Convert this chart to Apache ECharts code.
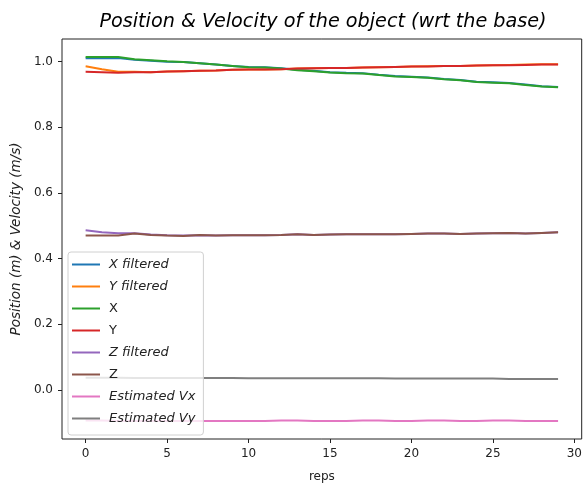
<!DOCTYPE html>
<html>
<head>
<meta charset="utf-8">
<script src="https://cdn.jsdelivr.net/npm/echarts@6/dist/echarts.min.js"></script>
<style>
  html, body { margin: 0; padding: 0; background: #fff; }
  #chart { width: 585px; height: 488px; }
</style>
</head>
<body>
<div id="chart"></div>
<script>
// reps on the x axis
var reps = [0, 1, 2, 3, 4, 5, 6, 7, 8, 9, 10, 11, 12, 13, 14, 15, 16, 17, 18, 19, 20, 21, 22, 23, 24, 25, 26, 27, 28, 29];

var xFiltered = [1.010, 1.010, 1.011, 1.006, 1.003, 1.000, 0.999, 0.995, 0.991, 0.987, 0.984, 0.983, 0.980, 0.975, 0.972, 0.968, 0.966, 0.965, 0.960, 0.956, 0.954, 0.952, 0.947, 0.944, 0.939, 0.937, 0.935, 0.930, 0.925, 0.923];
var yFiltered = [0.986, 0.977, 0.969, 0.969, 0.968, 0.970, 0.971, 0.972, 0.973, 0.975, 0.976, 0.976, 0.977, 0.979, 0.980, 0.981, 0.981, 0.982, 0.983, 0.984, 0.985, 0.986, 0.987, 0.987, 0.988, 0.989, 0.990, 0.991, 0.992, 0.992];
var xRaw = [1.014, 1.014, 1.014, 1.007, 1.004, 1.001, 0.999, 0.995, 0.991, 0.987, 0.983, 0.982, 0.979, 0.974, 0.971, 0.967, 0.965, 0.964, 0.959, 0.955, 0.953, 0.951, 0.946, 0.943, 0.938, 0.936, 0.934, 0.929, 0.924, 0.922];
var yRaw = [0.969, 0.968, 0.966, 0.968, 0.968, 0.970, 0.971, 0.972, 0.973, 0.975, 0.976, 0.976, 0.977, 0.979, 0.980, 0.981, 0.981, 0.982, 0.983, 0.984, 0.985, 0.985, 0.987, 0.987, 0.988, 0.989, 0.989, 0.990, 0.991, 0.991];
var zFiltered = [0.486, 0.480, 0.477, 0.477, 0.473, 0.471, 0.470, 0.471, 0.470, 0.471, 0.471, 0.471, 0.472, 0.474, 0.472, 0.473, 0.474, 0.474, 0.474, 0.474, 0.475, 0.476, 0.476, 0.475, 0.476, 0.477, 0.478, 0.476, 0.478, 0.480];
var zRaw = [0.470, 0.470, 0.470, 0.476, 0.472, 0.470, 0.469, 0.472, 0.470, 0.471, 0.471, 0.471, 0.472, 0.474, 0.472, 0.473, 0.474, 0.474, 0.474, 0.474, 0.475, 0.476, 0.476, 0.475, 0.476, 0.477, 0.478, 0.476, 0.478, 0.480];
var estVx = [-0.094, -0.094, -0.095, -0.095, -0.095, -0.095, -0.095, -0.095, -0.095, -0.095, -0.095, -0.095, -0.094, -0.094, -0.095, -0.095, -0.095, -0.094, -0.094, -0.095, -0.095, -0.094, -0.094, -0.095, -0.095, -0.094, -0.094, -0.095, -0.095, -0.095];
var estVy = [0.037, 0.037, 0.037, 0.036, 0.036, 0.036, 0.036, 0.036, 0.036, 0.036, 0.035, 0.035, 0.035, 0.035, 0.035, 0.035, 0.035, 0.035, 0.035, 0.034, 0.034, 0.034, 0.034, 0.034, 0.034, 0.034, 0.033, 0.033, 0.033, 0.033];

var xTicks = [0, 5, 10, 15, 20, 25, 30];
var yTicks = [0.0, 0.2, 0.4, 0.6, 0.8, 1.0];

var seriesNames = ['X filtered', 'Y filtered', 'X', 'Y', 'Z filtered', 'Z', 'Estimated Vx', 'Estimated Vy'];
var seriesData = [xFiltered, yFiltered, xRaw, yRaw, zFiltered, zRaw, estVx, estVy];
var italicNames = ['X filtered', 'Y filtered', 'Z filtered', 'Estimated Vx', 'Estimated Vy'];
var colors = ['#1f77b4', '#ff7f0e', '#2ca02c', '#d62728', '#9467bd', '#8c564b', '#e377c2', '#7f7f7f'];

var myChart = echarts.init(document.getElementById('chart'));

var series = seriesNames.map(function (name, i) {
  return {
    name: name,
    type: 'line',
    showSymbol: false,
    symbol: 'none',
    data: reps.map(function (r, j) { return [r, seriesData[i][j]]; }),
    lineStyle: { width: 2, color: colors[i] },
    itemStyle: { color: colors[i] }
  };
});

var option = {
  backgroundColor: '#fff',
  color: colors,
  animation: false,
  title: {
    text: 'Position & Velocity of the object (wrt the base)',
    left: 318,
    top: 8,
    textAlign: 'center',
    textStyle: {
      fontFamily: 'DejaVu Sans',
      fontStyle: 'italic',
      fontWeight: 'normal',
      fontSize: 19.2,
      color: '#000'
    }
  },
  grid: {
    left: 62,
    top: 39,
    right: 3,
    bottom: 46,
    show: true,
    borderColor: '#222',
    borderWidth: 1,
    containLabel: false
  },
  legend: {
    orient: 'vertical',
    left: 68,
    top: 252,
    padding: [6, 8, 10, 4],
    itemWidth: 28,
    itemHeight: 2,
    itemGap: 9,
    icon: 'rect',
    backgroundColor: 'rgba(255,255,255,0.8)',
    borderColor: '#d0d0d0',
    borderWidth: 1,
    borderRadius: 3,
    textStyle: { fontFamily: 'DejaVu Sans', fontSize: 13, color: '#222', padding: [0, 0, 0, 4] },
    data: seriesNames.map(function (n) {
      return {
        name: n,
        textStyle: { fontStyle: italicNames.indexOf(n) >= 0 ? 'italic' : 'normal' }
      };
    })
  },
  xAxis: {
    type: 'value',
    min: -1.45,
    max: 30.45,
    name: 'reps',
    nameLocation: 'middle',
    nameGap: 32,
    nameTextStyle: { fontFamily: 'DejaVu Sans', fontSize: 12, color: '#222' },
    axisLine: { show: false, onZero: false },
    splitLine: { show: false },
    axisTick: { show: true, length: 4, lineStyle: { color: '#222' }, customValues: xTicks },
    axisLabel: { fontFamily: 'DejaVu Sans', fontSize: 12, color: '#222', margin: 9, customValues: xTicks }
  },
  yAxis: {
    type: 'value',
    min: -0.150,
    max: 1.069,
    name: 'Position (m) & Velocity (m/s)',
    nameLocation: 'middle',
    nameGap: 36,
    nameTextStyle: { fontFamily: 'DejaVu Sans', fontStyle: 'italic', fontSize: 13.5, color: '#222' },
    axisLine: { show: false, onZero: false },
    splitLine: { show: false },
    axisTick: { show: true, length: 4, lineStyle: { color: '#222' }, customValues: yTicks },
    axisLabel: {
      fontFamily: 'DejaVu Sans', fontSize: 12, color: '#222', margin: 9,
      customValues: yTicks,
      formatter: function (v) { return v.toFixed(1); }
    }
  },
  series: series
};

myChart.setOption(option);
</script>
</body>
</html>
